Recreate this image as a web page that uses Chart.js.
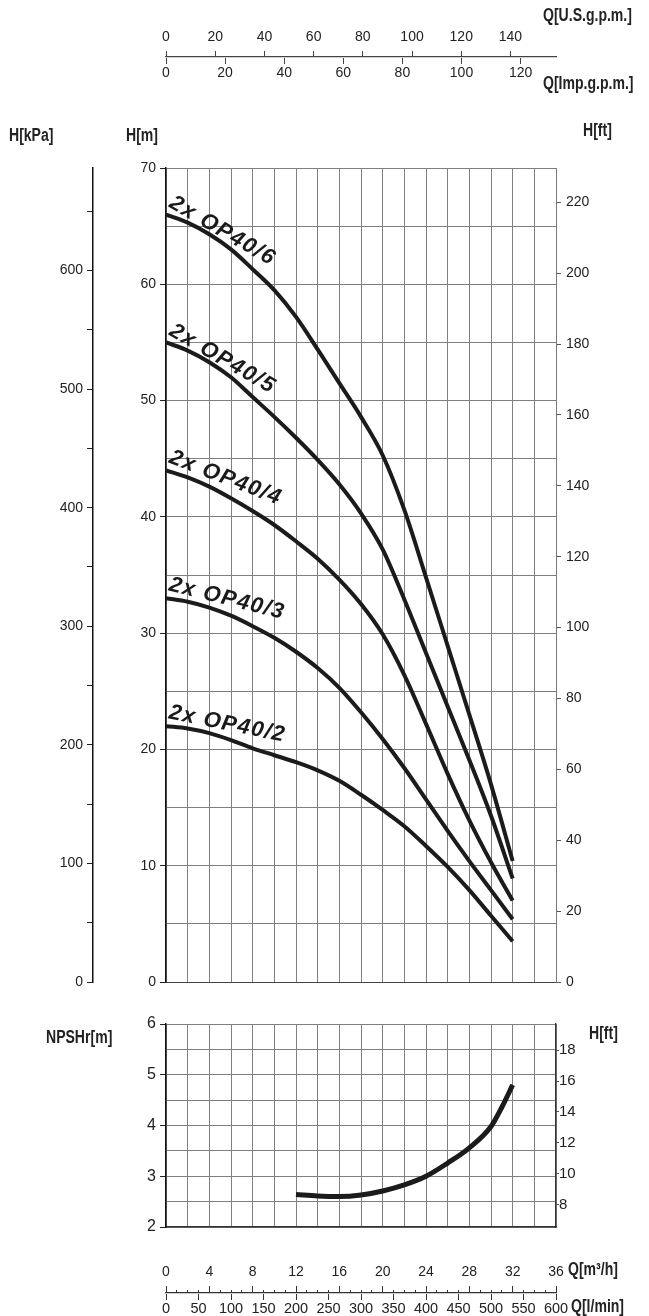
<!DOCTYPE html>
<html>
<head>
<meta charset="utf-8">
<script src="https://cdn.jsdelivr.net/npm/chart.js@4.4.1/dist/chart.umd.min.js"></script>
<style>
body { margin: 0; background: #fff; }
#page { position: relative; width: 649px; height: 1316px; overflow: hidden; }
canvas { position: absolute; left: 0; }
.lbl { position: absolute; font: bold 18px 'Liberation Sans', Arial, sans-serif; color: #222; white-space: nowrap; line-height: 1; transform: scaleX(0.78); transform-origin: 0 0; }
</style>
</head>
<body>
<div id="page">
	<canvas id="flowTop" width="649" height="100" style="top:0"></canvas>
	<canvas id="headChart" width="649" height="900" style="top:100px"></canvas>
	<canvas id="npshChart" width="649" height="245" style="top:1000px"></canvas>
	<canvas id="flowBottom" width="649" height="71" style="top:1245px"></canvas>

	<div class="lbl" style="left:543px;top:6px">Q[U.S.g.p.m.]</div>
	<div class="lbl" style="left:543px;top:74px">Q[Imp.g.p.m.]</div>
	<div class="lbl" style="left:9px;top:126px">H[kPa]</div>
	<div class="lbl" style="left:126px;top:126px">H[m]</div>
	<div class="lbl" style="left:583px;top:121px">H[ft]</div>
	<div class="lbl" style="left:46px;top:1028px">NPSHr[m]</div>
	<div class="lbl" style="left:589px;top:1024px">H[ft]</div>
	<div class="lbl" style="left:568px;top:1260px">Q[m³/h]</div>
	<div class="lbl" style="left:571px;top:1297px">Q[l/min]</div>
</div>

<script>
// flow in m3/h, head in m
var flowM3h = [0, 2, 4, 6, 8, 10, 12, 14, 16, 18, 20, 22, 24, 26, 28, 30, 32];
var headOP2 = [22.0, 21.8, 21.4, 20.8, 20.1, 19.5, 18.9, 18.2, 17.3, 16.1, 14.8, 13.4, 11.7, 9.9, 7.9, 5.7, 3.5];
var headOP3 = [33.0, 32.7, 32.2, 31.5, 30.6, 29.6, 28.4, 27.0, 25.3, 23.2, 20.9, 18.4, 15.7, 13.0, 10.4, 7.9, 5.4];
var headOP4 = [44.0, 43.4, 42.6, 41.6, 40.5, 39.3, 37.9, 36.4, 34.6, 32.5, 29.9, 26.4, 22.2, 17.9, 13.9, 10.3, 7.0];
var headOP5 = [55.0, 54.3, 53.3, 52.0, 50.3, 48.6, 46.8, 44.9, 42.8, 40.3, 37.2, 32.9, 28.3, 23.7, 19.1, 14.3, 8.9];
var headOP6 = [66.0, 65.3, 64.3, 63.0, 61.3, 59.5, 57.2, 54.4, 51.5, 48.6, 45.3, 40.6, 34.8, 28.9, 23.0, 17.0, 10.4];
var pumpNames = ["2x OP40/2", "2x OP40/3", "2x OP40/4", "2x OP40/5", "2x OP40/6"];

var npshFlow = [12, 14, 16, 18, 20, 22, 24, 26, 28, 30, 31, 32];
var npshValues = [2.64, 2.61, 2.6, 2.63, 2.71, 2.83, 3.0, 3.26, 3.56, 3.98, 4.36, 4.8];

// unit conversions
var M3H_MAX = 36;
var US_GPM_PER_M3H = 4.40287;
var IMP_GPM_PER_M3H = 3.66615;
var LMIN_PER_M3H = 1000 / 60;
var KPA_PER_M = 9.80665;
var FT_PER_M = 1 / 0.3048;

Chart.defaults.font.family = "'Liberation Sans', Arial, sans-serif";
Chart.defaults.color = "#222";

function pts(xs, ys) {
	return xs.map(function (q, i) { return { x: q, y: ys[i] }; });
}

var curveLabels = {
	id: "curveLabels",
	afterDatasetsDraw: function (chart, args, opts) {
		var ctx = chart.ctx;
		var x = chart.scales.x, y = chart.scales.y;
		ctx.save();
		ctx.font = "italic bold 22px 'Liberation Sans', Arial, sans-serif";
		ctx.letterSpacing = "1.5px";
		ctx.fillStyle = "#1a1a1a";
		chart.data.datasets.forEach(function (ds, i) {
			var p = ds.data[0];
			ctx.save();
			ctx.translate(x.getPixelForValue(p.x) + opts.dx, y.getPixelForValue(p.y) + opts.dy);
			ctx.rotate(opts.angles[i] * Math.PI / 180);
			ctx.fillText(ds.label, 0, 0);
			ctx.restore();
		});
		ctx.restore();
	},
};

// top flow axes (US / Imp gallons per minute)
new Chart(document.getElementById("flowTop"), {
	type: "line",
	data: { datasets: [] },
	options: {
		responsive: false,
		animation: false,
		layout: { padding: { left: 166, right: 93, top: 0, bottom: 0 } },
		plugins: { legend: { display: false }, tooltip: { enabled: false } },
		scales: {
			us: {
				type: "linear", position: "top", min: 0, max: M3H_MAX * US_GPM_PER_M3H,
				ticks: { stepSize: 20, includeBounds: false, padding: 5, maxRotation: 0, autoSkip: false, font: { size: 14 } },
				grid: { drawOnChartArea: false, tickLength: 6, color: "#444" },
				border: { color: "#444", width: 1.3 },
				afterFit: function (s) { s.height = 57; },
			},
			imp: {
				type: "linear", position: "bottom", min: 0, max: M3H_MAX * IMP_GPM_PER_M3H,
				ticks: { stepSize: 20, includeBounds: false, padding: 1, maxRotation: 0, autoSkip: false, font: { size: 14 } },
				grid: { drawOnChartArea: false, tickLength: 6, color: "#444" },
				border: { display: false },
				afterFit: function (s) { s.height = 42; },
			},
		},
	},
});

// head curves
var headSeries = [headOP2, headOP3, headOP4, headOP5, headOP6];
new Chart(document.getElementById("headChart"), {
	type: "line",
	data: {
		datasets: headSeries.map(function (h, i) {
			return {
				label: pumpNames[i],
				data: pts(flowM3h, h),
				borderColor: "#1b1b1b",
				borderWidth: 4,
				pointRadius: 0,
				cubicInterpolationMode: "monotone",
			};
		}),
	},
	options: {
		responsive: false,
		animation: false,
		layout: { padding: { top: 68, bottom: 18, left: 0, right: 0 } },
		plugins: {
			legend: { display: false },
			tooltip: { enabled: false },
			curveLabels: { dx: 2, dy: -8, angles: [11.5, 14, 21, 30, 30] },
		},
		scales: {
			x: {
				type: "linear", min: 0, max: M3H_MAX,
				ticks: { stepSize: 2, display: false },
				grid: { color: "#808080", drawTicks: false },
				border: { color: "#444" },
				afterFit: function (s) { s.height = 0; },
			},
			yMinor: {
				type: "linear", position: "left", weight: 0, min: 0, max: 70,
				ticks: { stepSize: 5, display: false },
				grid: { color: "#808080", drawTicks: false },
				border: { display: false },
				afterFit: function (s) { s.width = 0; },
			},
			y: {
				type: "linear", position: "left", weight: 1, min: 0, max: 70,
				ticks: { stepSize: 10, padding: 4, font: { size: 14 } },
				grid: { drawOnChartArea: false, tickLength: 6, color: "#222" },
				border: { color: "#111", width: 1.5 },
				afterFit: function (s) { s.width = 73; },
			},
			kpa: {
				type: "linear", position: "left", weight: 2, min: 0, max: 70 * KPA_PER_M,
				ticks: {
					stepSize: 50, includeBounds: false, padding: 4, font: { size: 14 },
					callback: function (v) { return v % 100 === 0 ? v : ""; },
				},
				grid: { drawOnChartArea: false, tickLength: 6, color: "#222" },
				border: { color: "#111", width: 1.5 },
				afterFit: function (s) { s.width = 93; },
			},
			ft: {
				type: "linear", position: "right", min: 0, max: 70 * FT_PER_M,
				ticks: { stepSize: 20, includeBounds: false, padding: 5, font: { size: 14 } },
				grid: { drawOnChartArea: false, tickLength: 5, color: "#555" },
				border: { color: "#777" },
				afterFit: function (s) { s.width = 93; },
			},
		},
	},
	plugins: [curveLabels],
});

// NPSH chart
new Chart(document.getElementById("npshChart"), {
	type: "line",
	data: {
		datasets: [{
			label: "NPSHr",
			data: pts(npshFlow, npshValues),
			borderColor: "#1b1b1b",
			borderWidth: 5,
			pointRadius: 0,
			cubicInterpolationMode: "monotone",
		}],
	},
	options: {
		responsive: false,
		animation: false,
		layout: { padding: { top: 24, bottom: 18, left: 0, right: 0 } },
		plugins: { legend: { display: false }, tooltip: { enabled: false } },
		scales: {
			x: {
				type: "linear", min: 0, max: M3H_MAX,
				ticks: { stepSize: 2, display: false },
				grid: { color: "#808080", drawTicks: false },
				border: { color: "#333", width: 1.5 },
				afterFit: function (s) { s.height = 0; },
			},
			yMinor: {
				type: "linear", position: "left", weight: 0, min: 2, max: 6,
				ticks: { stepSize: 0.5, display: false },
				grid: { color: "#808080", drawTicks: false },
				border: { display: false },
				afterFit: function (s) { s.width = 0; },
			},
			y: {
				type: "linear", position: "left", weight: 1, min: 2, max: 6,
				ticks: { stepSize: 1, padding: 4, font: { size: 16 } },
				grid: { drawOnChartArea: false, tickLength: 6, color: "#222" },
				border: { color: "#111", width: 1.5 },
				afterFit: function (s) { s.width = 166; },
			},
			ft: {
				type: "linear", position: "right", min: 2 * FT_PER_M, max: 6 * FT_PER_M,
				ticks: { stepSize: 2, includeBounds: false, padding: 0, font: { size: 15 } },
				grid: { drawOnChartArea: false, tickLength: 3, color: "#555" },
				border: { color: "#333", width: 1.3 },
				afterFit: function (s) { s.width = 93; },
			},
		},
	},
});

// bottom flow axes (m3/h and l/min)
new Chart(document.getElementById("flowBottom"), {
	type: "line",
	data: { datasets: [] },
	options: {
		responsive: false,
		animation: false,
		layout: { padding: { left: 166, right: 93, top: 0, bottom: 0 } },
		plugins: { legend: { display: false }, tooltip: { enabled: false } },
		scales: {
			m3h: {
				type: "linear", position: "top", weight: 1, min: 0, max: M3H_MAX,
				ticks: { stepSize: 4, padding: 5, maxRotation: 0, autoSkip: false, font: { size: 14 } },
				grid: { drawOnChartArea: false, tickLength: 7, color: "#333" },
				border: { color: "#333", width: 1.3 },
				afterFit: function (s) { s.height = 48; },
			},
			m3hMinor: {
				type: "linear", position: "top", weight: 0, min: 0, max: M3H_MAX,
				ticks: { stepSize: 1, display: false },
				grid: { drawOnChartArea: false, tickLength: 3, color: "#333" },
				border: { display: false },
				afterFit: function (s) { s.height = 0; },
			},
			lmin: {
				type: "linear", position: "bottom", min: 0, max: M3H_MAX * LMIN_PER_M3H,
				ticks: { stepSize: 50, padding: 0, maxRotation: 0, autoSkip: false, font: { size: 14.5 } },
				grid: { drawOnChartArea: false, tickLength: 6, color: "#333" },
				border: { display: false },
				afterFit: function (s) { s.height = 22; },
			},
		},
	},
});
</script>
</body>
</html>
